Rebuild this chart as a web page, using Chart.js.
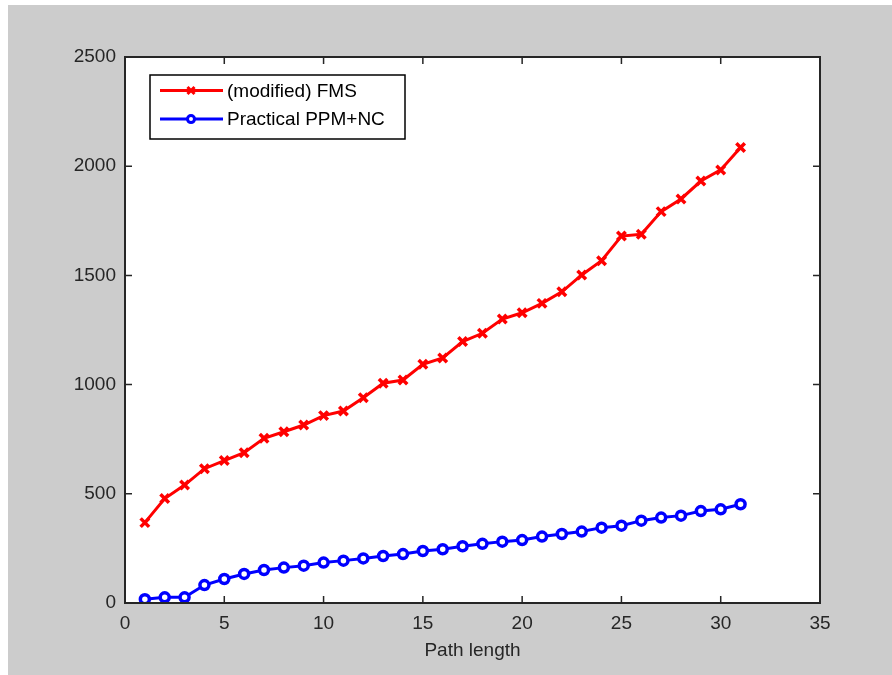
<!DOCTYPE html>
<html>
<head>
<meta charset="utf-8">
<script src="https://cdn.jsdelivr.net/npm/chart.js@4.4.1/dist/chart.umd.min.js"></script>
<style>
  html, body { margin: 0; padding: 0; background: #ffffff; }
  #frame { position: absolute; left: 8px; top: 5px; width: 884px; height: 670px; background: #cccccc; }
  #pathChart { display: block; }
</style>
</head>
<body>
<div id="frame"><canvas id="pathChart" width="884" height="670"></canvas></div>
<script>
// valores
var pathLength = [1, 2, 3, 4, 5, 6, 7, 8, 9, 10, 11, 12, 13, 14, 15, 16, 17, 18, 19, 20, 21, 22, 23, 24, 25, 26, 27, 28, 29, 30, 31];
var fmsValues = [368, 478, 540, 615, 652, 688, 754, 784, 815, 858, 879, 940, 1006, 1021, 1093, 1122, 1197, 1235, 1300, 1329, 1372, 1425, 1502, 1567, 1680, 1688, 1792, 1850, 1932, 1983, 2086];
var ppmValues = [17, 26, 26, 82, 110, 133, 151, 162, 171, 185, 194, 204, 215, 224, 238, 246, 260, 271, 281, 288, 304, 316, 327, 345, 354, 377, 391, 400, 421, 429, 452];
var seriesLabels = ['(modified) FMS', 'Practical PPM+NC'];
var xTicks = [0, 5, 10, 15, 20, 25, 30, 35];
var yTicks = [0, 500, 1000, 1500, 2000, 2500];

var axisColor = '#262626';
var fontFamily = '"Liberation Sans", Arial, Helvetica, sans-serif';
var fontSize = 19;

function toPoints(xs, ys) {
    return xs.map(function(x, i) { return { x: x, y: ys[i] }; });
}

// caixa estilo MATLAB: fundo branco, moldura, ticks para dentro e legenda interna
var matlabAxes = {
    id: 'matlabAxes',
    beforeDraw: function(chart) {
        var a = chart.chartArea, ctx = chart.ctx;
        ctx.save();
        ctx.fillStyle = '#ffffff';
        ctx.fillRect(a.left, a.top, a.right - a.left, a.bottom - a.top);
        ctx.restore();
    },
    afterDraw: function(chart) {
        var a = chart.chartArea, ctx = chart.ctx;
        var xs = chart.scales.x, ys = chart.scales.y;
        var tl = 7;
        ctx.save();
        ctx.strokeStyle = axisColor;
        ctx.lineWidth = 1.5;
        ctx.beginPath();
        xTicks.forEach(function(v) {
            var px = xs.getPixelForValue(v);
            ctx.moveTo(px, a.bottom); ctx.lineTo(px, a.bottom - tl);
            ctx.moveTo(px, a.top); ctx.lineTo(px, a.top + tl);
        });
        yTicks.forEach(function(v) {
            var py = ys.getPixelForValue(v);
            ctx.moveTo(a.left, py); ctx.lineTo(a.left + tl, py);
            ctx.moveTo(a.right, py); ctx.lineTo(a.right - tl, py);
        });
        ctx.stroke();
        ctx.lineWidth = 2;
        ctx.strokeRect(a.left, a.top, a.right - a.left, a.bottom - a.top);

        // legenda
        var bx = a.left + 25, by = a.top + 18, bw = 255, bh = 64;
        ctx.fillStyle = '#ffffff';
        ctx.fillRect(bx, by, bw, bh);
        ctx.lineWidth = 1.5;
        ctx.strokeStyle = '#000000';
        ctx.strokeRect(bx, by, bw, bh);
        chart.data.datasets.forEach(function(ds, i) {
            var ry = by + 15.5 + i * 28.6;
            ctx.strokeStyle = ds.borderColor;
            ctx.lineWidth = ds.borderWidth;
            ctx.beginPath();
            ctx.moveTo(bx + 10, ry); ctx.lineTo(bx + 73, ry);
            ctx.stroke();
            ctx.fillStyle = ds.pointBackgroundColor;
            ctx.strokeStyle = ds.pointBorderColor;
            Chart.helpers.drawPoint(ctx, {
                pointStyle: ds.pointStyle,
                radius: ds.pointRadius - 1,
                borderWidth: ds.pointBorderWidth,
                rotation: 0
            }, bx + 41, ry);
            ctx.fillStyle = '#000000';
            ctx.font = fontSize + 'px ' + fontFamily;
            ctx.textBaseline = 'middle';
            ctx.textAlign = 'left';
            ctx.fillText(ds.label, bx + 77, ry + 1);
        });
        ctx.restore();
    }
};

var ctx = document.getElementById('pathChart').getContext('2d');
new Chart(ctx, {
    type: 'line',
    data: {
        datasets: [
            {
                label: seriesLabels[0],
                data: toPoints(pathLength, fmsValues),
                borderColor: '#ff0000',
                backgroundColor: '#ff0000',
                borderWidth: 3,
                pointStyle: 'crossRot',
                pointRadius: 6,
                pointBorderWidth: 3.5,
                pointBackgroundColor: '#ff0000',
                pointBorderColor: '#ff0000',
                tension: 0
            },
            {
                label: seriesLabels[1],
                data: toPoints(pathLength, ppmValues),
                borderColor: '#0000ff',
                backgroundColor: '#0000ff',
                borderWidth: 3,
                pointStyle: 'circle',
                pointRadius: 4.5,
                pointBorderWidth: 3.5,
                pointBackgroundColor: '#ffffff',
                pointBorderColor: '#0000ff',
                tension: 0
            }
        ]
    },
    options: {
        responsive: false,
        animation: false,
        events: [],
        layout: { padding: { top: 52, right: 72, left: 0, bottom: 0 } },
        plugins: {
            legend: { display: false },
            tooltip: { enabled: false }
        },
        scales: {
            x: {
                type: 'linear',
                min: 0,
                max: 35,
                afterFit: function(scale) { scale.height = 72; },
                afterBuildTicks: function(scale) { scale.ticks = xTicks.map(function(v) { return { value: v }; }); },
                grid: { display: false, drawTicks: false },
                border: { display: false },
                ticks: {
                    padding: 9,
                    color: axisColor,
                    font: { family: fontFamily, size: fontSize },
                    maxRotation: 0,
                    callback: function(value) { return String(value); }
                },
                title: {
                    display: true,
                    text: 'Path length',
                    color: axisColor,
                    font: { family: fontFamily, size: fontSize },
                    padding: { top: 4, bottom: 13 }
                }
            },
            y: {
                type: 'linear',
                min: 0,
                max: 2500,
                afterFit: function(scale) { scale.width = 117; },
                afterBuildTicks: function(scale) { scale.ticks = yTicks.map(function(v) { return { value: v }; }); },
                grid: { display: false, drawTicks: false },
                border: { display: false },
                ticks: {
                    padding: 9,
                    color: axisColor,
                    font: { family: fontFamily, size: fontSize },
                    callback: function(value) { return String(value); }
                }
            }
        }
    },
    plugins: [matlabAxes]
});
</script>
</body>
</html>
